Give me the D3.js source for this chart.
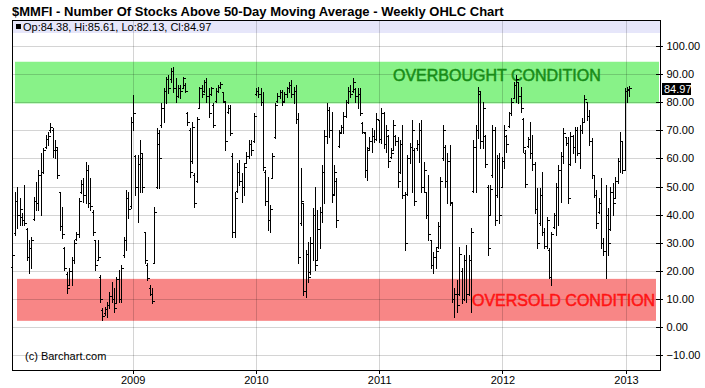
<!DOCTYPE html>
<html lang="en">
<head>
<meta charset="utf-8">
<title>$MMFI - Weekly OHLC Chart</title>
<script src="https://d3js.org/d3.v7.min.js"></script>
<style>
  html, body { margin: 0; padding: 0; background: #fff; }
  svg { display: block; font-family: "Liberation Sans", Arial, sans-serif; }
  .grid line { stroke: #000; stroke-opacity: 0.17; shape-rendering: crispEdges; }
  .bars path { stroke: #000; stroke-width: 1; fill: none; shape-rendering: crispEdges; }
  .frame { fill: none; stroke: #000; shape-rendering: crispEdges; }
  .axis text { font-size: 11px; fill: #000; }
  .axis line { stroke: #000; shape-rendering: crispEdges; }
</style>
</head>
<body>
<div id="chart"></div>
<script>
// weekly bars, first bar is the week ending 2008-01-11
var firstWeek = "2008-01-11";

var weekOpen = [
  21.5,33.5,45.0,40.0,39.0,38.0,35.0,25.0,28.0,38.5,
  45.0,44.0,54.0,55.0,64.0,67.0,70.0,70.0,63.0,63.0,
  48.0,36.0,28.0,19.0,15.0,20.0,24.0,31.5,33.0,48.0,
  51.0,47.0,56.0,44.0,41.0,31.0,24.0,18.0,6.0,5.0,
  6.5,8.0,11.0,10.0,8.5,17.0,10.0,25.5,31.0,46.0,
  43.0,73.0,61.0,50.0,58.0,60.0,34.0,22.0,14.0,12.0,
  23.0,50.0,65.0,72.0,78.0,84.0,88.0,88.0,91.0,85.0,
  82.0,85.0,85.0,86.0,76.0,70.0,59.0,54.0,52.0,78.0,
  85.0,84.0,87.0,82.0,83.0,79.0,80.5,84.0,85.5,83.5,
  80.0,76.5,78.0,61.0,34.0,48.5,55.0,52.0,50.0,58.5,
  61.0,65.0,66.0,83.0,84.0,83.0,80.0,55.0,45.0,38.0,
  53.0,67.5,80.5,82.0,83.5,80.5,83.0,85.0,86.0,83.0,
  84.0,74.0,37.0,44.0,13.0,26.0,19.5,30.0,40.0,24.0,
  35.0,41.0,55.0,68.0,77.0,70.0,47.5,52.0,64.5,69.5,
  71.0,75.0,80.0,84.0,84.0,84.5,82.0,83.0,72.5,69.0,
  56.0,63.5,66.0,68.0,67.0,73.5,67.0,76.0,65.0,68.0,
  60.5,63.0,68.0,66.0,55.0,65.0,47.0,47.5,60.0,64.0,
  63.0,63.5,65.0,70.0,50.0,48.0,40.0,31.0,22.0,25.0,
  28.5,36.0,60.0,64.0,52.0,59.0,44.0,10.0,12.0,12.0,
  20.0,10.0,24.0,12.0,24.0,48.5,64.0,70.0,83.0,66.0,
  68.0,50.0,40.0,54.0,70.0,47.0,60.0,50.0,59.0,68.0,
  71.5,76.0,81.5,86.0,87.0,82.0,74.0,62.0,64.5,67.0,
  62.0,58.0,42.0,37.0,47.0,34.0,29.0,27.5,18.0,35.5,
  40.0,50.0,56.0,61.0,67.5,65.5,58.0,68.0,64.0,70.0,
  62.0,70.0,73.0,80.0,75.0,66.0,54.0,47.0,41.0,44.0,
  30.0,27.0,40.0,35.0,48.0,46.0,52.0,59.0,66.0,56.0,
  84.0,84.38
];

var weekHigh = [
  26.0,48.2,49.9,45.8,40.5,50.5,35.1,31.0,32.2,46.4,
  51.7,55.9,61.8,63.6,68.3,69.5,72.4,70.7,66.5,64.2,
  48.2,42.8,28.6,19.8,21.0,25.1,31.0,34.0,45.8,52.3,
  52.9,58.8,57.6,52.9,41.7,31.0,31.0,18.6,6.7,7.3,
  9.1,12.7,16.2,13.8,18.0,20.3,22.1,32.2,48.8,48.2,
  74.8,82.5,61.2,61.2,66.5,61.8,34.0,22.7,15.0,13.8,
  42.8,70.7,70.1,79.5,84.9,89.0,89.6,92.0,92.6,88.4,
  86.0,86.0,89.0,86.6,76.6,70.7,73.0,54.7,74.8,85.5,
  86.0,87.8,88.4,84.9,85.5,79.5,84.9,86.0,87.2,83.7,
  80.1,78.9,78.9,61.8,48.2,58.2,59.4,54.7,58.2,62.4,
  66.5,66.5,76.0,84.9,85.5,84.9,83.7,55.9,53.5,43.4,
  61.8,79.5,83.1,84.3,84.3,83.7,85.5,87.2,87.8,85.5,
  86.0,76.0,56.4,44.0,27.4,30.4,32.2,42.3,49.9,41.6,
  42.8,57.6,70.0,79.5,78.3,76.6,57.6,52.9,70.1,72.0,
  76.6,80.7,85.5,86.0,88.4,84.9,84.9,84.9,73.0,69.5,
  64.2,67.7,70.7,70.1,76.0,73.7,77.8,76.6,71.8,68.3,
  63.6,73.7,68.3,67.7,66.5,71.8,48.2,61.2,65.3,73.7,
  63.6,66.5,72.4,73.7,58.8,48.2,54.1,31.0,26.9,28.6,
  37.5,53.5,71.8,64.7,61.8,64.7,44.0,13.8,16.8,28.6,
  21.0,25.7,29.2,25.7,35.1,66.5,71.8,85.5,83.7,80.1,
  68.3,50.5,50.5,71.8,71.2,61.2,61.8,60.6,71.8,68.3,
  76.6,81.3,87.2,89.6,87.2,85.5,74.2,63.0,67.7,73.0,
  68.3,58.8,49.4,49.4,55.3,35.1,39.3,28.0,34.0,40.5,
  51.1,57.6,62.4,70.7,67.7,67.7,69.5,68.3,71.2,71.2,
  71.8,74.2,82.5,80.1,77.2,67.1,54.1,48.8,45.8,52.9,
  31.6,50.5,42.3,49.9,51.1,53.5,60.0,69.5,66.0,84.9,
  85.5,85.61
];

var weekLow = [
  21.0,32.8,35.1,36.3,36.3,36.3,23.9,19.2,21.0,38.1,
  41.7,41.7,39.9,54.7,63.6,64.7,69.5,60.6,60.0,52.9,
  34.6,31.6,20.3,12.1,15.0,15.0,22.7,31.0,32.2,47.6,
  44.6,44.0,42.8,41.7,32.8,20.3,23.9,9.1,2.6,4.4,
  3.8,6.7,9.1,5.5,8.5,9.1,9.1,25.1,27.4,38.7,
  42.3,70.1,47.0,37.5,48.2,48.2,22.7,16.8,11.5,8.5,
  22.7,49.4,49.4,71.3,73.0,79.5,83.1,87.2,83.7,80.1,
  81.9,81.3,84.9,83.7,71.8,53.5,58.2,42.8,51.7,77.8,
  81.9,83.7,80.1,74.8,82.5,71.3,80.1,83.7,84.9,80.1,
  63.0,76.0,68.3,32.2,32.2,48.2,50.5,44.6,47.0,58.2,
  60.0,61.2,65.9,82.5,81.9,78.9,55.9,43.4,34.6,34.0,
  52.9,67.1,80.1,81.3,78.9,80.1,81.9,83.7,81.9,79.5,
  72.4,22.7,36.3,11.5,10.9,16.2,19.1,23.9,20.3,24.0,
  28.0,37.5,44.0,65.3,67.7,44.6,47.0,35.7,64.2,69.0,
  68.9,74.8,79.5,81.9,83.7,80.1,77.8,75.4,68.9,53.5,
  52.3,63.0,62.4,65.9,66.5,65.9,65.3,63.6,62.4,57.0,
  60.0,63.0,64.8,50.0,54.7,45.8,27.4,47.0,58.2,48.2,
  43.4,63.0,58.8,48.2,48.0,38.7,31.0,21.0,19.2,21.0,
  28.0,28.0,59.4,49.9,44.0,43.4,9.1,3.8,5.5,11.5,
  8.5,9.7,9.1,11.5,5.5,48.2,48.2,67.1,63.6,63.6,
  57.0,25.7,39.9,53.5,36.3,46.4,36.9,49.9,56.5,62.4,
  71.2,75.4,81.3,80.1,79.5,76.6,62.4,49.9,64.2,60.0,
  55.9,40.5,28.0,36.3,32.8,28.0,28.0,17.4,15.0,35.1,
  32.8,36.3,44.6,58.2,64.7,44.0,57.6,62.0,58.8,61.2,
  56.5,68.9,73.0,73.7,64.7,52.9,46.4,35.1,40.5,28.0,
  25.7,17.4,25.7,34.6,39.9,45.8,51.1,55.3,54.7,55.9,
  80.1,82.13
];

var weekClose = [
  25.5,45.0,40.0,42.0,38.0,37.0,25.0,28.0,31.0,45.0,
  44.0,54.0,55.0,63.0,67.0,68.0,71.0,63.0,64.0,54.0,
  36.0,33.0,21.0,14.0,20.0,24.0,30.0,33.0,45.0,51.0,
  47.0,56.0,44.0,43.0,34.0,22.0,25.0,10.0,4.0,6.5,
  8.0,11.0,10.0,7.0,17.0,10.0,21.0,31.0,46.0,42.0,
  73.0,76.0,50.0,58.0,62.0,50.0,24.0,17.5,12.0,9.5,
  41.0,69.0,60.0,78.0,84.0,88.0,85.0,91.0,85.0,82.0,
  85.0,84.0,88.5,84.0,73.0,55.0,71.0,44.0,74.0,85.0,
  83.0,87.0,82.0,76.0,85.0,72.0,84.0,85.5,86.5,80.5,
  66.0,78.0,69.0,34.0,46.0,55.0,52.0,50.0,57.0,61.0,
  65.0,63.0,75.0,84.0,83.0,80.0,57.0,45.0,38.0,42.0,
  61.0,79.0,82.0,83.5,80.0,83.0,85.0,86.0,83.0,84.0,
  74.0,25.0,45.0,13.0,26.0,18.0,30.0,40.0,22.0,35.0,
  41.0,55.0,68.0,77.0,70.0,47.0,55.0,38.0,69.0,71.0,
  75.0,80.0,84.0,83.0,87.0,82.0,83.0,76.0,69.5,56.0,
  63.0,66.0,68.0,67.0,74.0,67.0,76.0,65.0,70.0,59.0,
  62.0,72.0,66.0,52.0,65.0,47.0,30.0,60.0,64.0,70.0,
  45.0,65.0,70.0,50.0,56.0,40.0,33.0,22.0,25.0,27.0,
  36.0,52.0,70.0,52.0,59.0,44.5,10.0,12.0,8.0,26.0,
  10.0,24.0,12.0,24.0,34.0,64.0,70.0,84.0,66.0,78.0,
  58.0,28.0,49.0,70.0,38.0,60.0,40.0,59.0,70.0,65.0,
  76.0,80.0,86.0,88.0,82.0,78.0,64.0,51.0,67.0,62.0,
  58.0,42.0,30.0,47.0,34.0,29.0,38.0,18.0,33.0,40.0,
  50.0,56.0,61.0,69.0,65.5,46.0,68.0,64.0,70.0,62.0,
  70.0,73.0,81.0,75.0,66.0,54.0,47.0,37.0,44.0,30.0,
  27.0,40.0,30.0,48.0,44.0,52.0,59.0,66.0,56.0,84.0,
  84.5,84.97
];

var yTicks = [-10, 0, 10, 20, 30, 40, 50, 60, 70, 80, 90, 100];
var yearTicks = ["2009-01-01", "2010-01-01", "2011-01-01", "2012-01-01", "2013-01-01"];

// shaded zones: [low, high] in indicator units
var overboughtZone = [79.5, 94.3];
var oversoldZone = [2.3, 17.2];

var titleText = "$MMFI - Number Of Stocks Above 50-Day Moving Average - Weekly OHLC Chart";

var w = 705, h = 388;
var plotLeft = 12, plotRight = 660, plotTop = 20, plotBottom = 370;

var parse = d3.utcParse("%Y-%m-%d");
var start = parse(firstWeek);
var bars = weekClose.map(function(c, i) {
  return {
    date: d3.utcDay.offset(start, 7 * i),
    o: weekOpen[i], h: weekHigh[i], l: weekLow[i], c: c
  };
});
var last = bars[bars.length - 1];

var x = d3.scaleUtc()
  .domain([parse("2009-01-01"), parse("2013-01-01")])
  .range([132.7, 626]);

var y = d3.scaleLinear()
  .domain([0, 100])
  .range([327.3, 45.7]);

var svg = d3.select("#chart").append("svg")
  .attr("width", w)
  .attr("height", h);

svg.append("rect").attr("width", w).attr("height", h).attr("fill", "#fff");

// title
svg.append("text")
  .attr("x", 12).attr("y", 15.5)
  .attr("font-size", 13).attr("font-weight", "bold")
  .text(titleText);

// header strip
svg.append("rect")
  .attr("x", plotLeft).attr("y", plotTop)
  .attr("width", plotRight - plotLeft).attr("height", 13)
  .attr("fill", "#e6e6fa");

// zones
svg.append("rect")
  .attr("x", 15).attr("width", 659 - 15)
  .attr("y", y(overboughtZone[1]))
  .attr("height", y(overboughtZone[0]) - y(overboughtZone[1]))
  .attr("fill", "#88f288");

svg.append("rect")
  .attr("x", 17).attr("width", 656 - 17)
  .attr("y", y(oversoldZone[1]))
  .attr("height", y(oversoldZone[0]) - y(oversoldZone[1]))
  .attr("fill", "#f88686");

// grid
var grid = svg.append("g").attr("class", "grid");
grid.selectAll(".hg")
  .data(yTicks)
  .enter().append("line")
  .attr("x1", plotLeft).attr("x2", plotRight)
  .attr("y1", function(d) { return Math.round(y(d)) + 0.5; })
  .attr("y2", function(d) { return Math.round(y(d)) + 0.5; });
grid.selectAll(".vg")
  .data(yearTicks)
  .enter().append("line")
  .attr("x1", function(d) { return Math.round(x(parse(d))) + 0.5; })
  .attr("x2", function(d) { return Math.round(x(parse(d))) + 0.5; })
  .attr("y1", plotTop).attr("y2", plotBottom);

// zone labels
svg.append("text")
  .attr("x", 393).attr("y", 81)
  .attr("font-size", 16).attr("fill", "#178c17")
  .attr("stroke", "#178c17").attr("stroke-width", 0.5)
  .text("OVERBOUGHT CONDITION");

svg.append("text")
  .attr("x", 472).attr("y", 305.5)
  .attr("font-size", 16).attr("fill", "#ff1414")
  .attr("stroke", "#ff1414").attr("stroke-width", 0.5)
  .text("OVERSOLD CONDITION");

// OHLC bars
svg.append("g").attr("class", "bars")
  .selectAll("path")
  .data(bars)
  .enter().append("path")
  .attr("d", function(d) {
    var bx = Math.round(x(d.date)) + 0.5;
    var yh = Math.round(y(d.h)), yl = Math.round(y(d.l)) + 1;
    var yo = Math.round(y(d.o)) + 0.5, yc = Math.round(y(d.c)) + 0.5;
    return "M" + bx + "," + yh + "V" + yl +
      "M" + (bx - 2) + "," + yo + "H" + bx +
      "M" + bx + "," + yc + "H" + (bx + 2);
  });

// frame
svg.append("rect").attr("class", "frame")
  .attr("x", plotLeft + 0.5).attr("y", plotTop + 0.5)
  .attr("width", plotRight - plotLeft).attr("height", plotBottom - plotTop);

// header readout
svg.append("rect")
  .attr("x", 16).attr("y", 24).attr("width", 5).attr("height", 5)
  .attr("fill", "#000");
svg.append("text")
  .attr("x", 23).attr("y", 30.5)
  .attr("font-size", 11)
  .text("Op:" + last.o.toFixed(2) + ", Hi:" + last.h.toFixed(2) +
        ", Lo:" + last.l.toFixed(2) + ", Cl:" + last.c.toFixed(2));

// right axis
var yAxis = svg.append("g").attr("class", "axis")
  .attr("transform", "translate(" + (plotRight + 0.5) + ",0)")
  .call(d3.axisRight(y).tickValues(yTicks).tickFormat(d3.format(".2f")).tickSize(2).tickPadding(4));
yAxis.select(".domain").remove();
yAxis.selectAll(".tick line").attr("x1", -5).attr("x2", 2);

// last value marker
svg.append("rect")
  .attr("x", 662).attr("y", Math.round(y(last.c)) - 5)
  .attr("width", 29).attr("height", 12)
  .attr("fill", "#000");
svg.append("text")
  .attr("x", 664).attr("y", Math.round(y(last.c)) + 5)
  .attr("font-size", 11).attr("fill", "#fff")
  .text(last.c.toFixed(2));

// bottom axis
var xAxis = svg.append("g").attr("class", "axis")
  .attr("transform", "translate(0," + (plotBottom + 0.5) + ")")
  .call(d3.axisBottom(x)
    .tickValues(yearTicks.map(parse))
    .tickFormat(d3.utcFormat("%Y"))
    .tickSize(3).tickPadding(3));
xAxis.select(".domain").remove();

// copyright
svg.append("text")
  .attr("x", 25).attr("y", 360)
  .attr("font-size", 11)
  .text("(c) Barchart.com");
</script>
</body>
</html>
